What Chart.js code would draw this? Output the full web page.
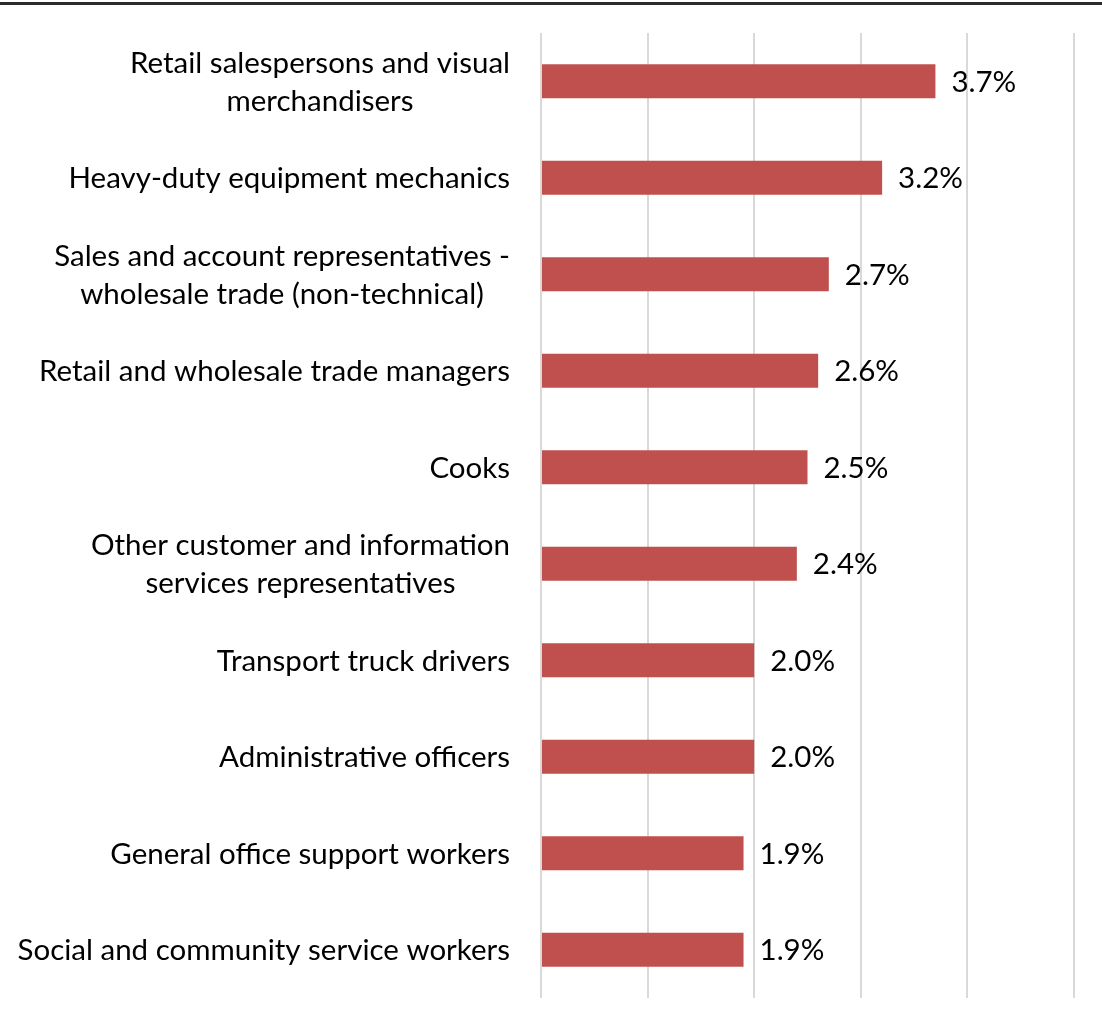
<!DOCTYPE html>
<html>
<head>
<meta charset="utf-8">
<script src="https://cdn.jsdelivr.net/npm/chart.js@4.4.1/dist/chart.umd.min.js"></script>
<style>
    body { margin: 0; background: #fff; }
    /* Línea superior del marco */
    #contenedor { margin-top: 2px; border-top: 3px solid #2b2b2b; width: 1102px; }
    canvas { display: block; }
</style>
</head>
<body>
<div id="contenedor">
    <canvas id="chart1" width="1102" height="1019"></canvas>
</div>
<script>
// Ocupaciones (etiquetas del eje vertical).
const OCUPACIONES = [
    ['Retail salespersons and visual', 'merchandisers'],
    'Heavy-duty equipment mechanics',
    ['Sales and account representatives -', 'wholesale trade (non-technical)'],
    'Retail and wholesale trade managers',
    'Cooks',
    ['Other customer and information', 'services representatives'],
    'Transport truck drivers',
    'Administrative officers',
    'General office support workers',
    'Social and community service workers'
];
// Porcentaje de cada ocupación.
const PORCENTAJES = [3.7, 3.2, 2.7, 2.6, 2.5, 2.4, 2.0, 2.0, 1.9, 1.9];
// Rango del eje horizontal (líneas de cuadrícula cada 1%).
const EJE_MIN = 0;
const EJE_MAX = 5;
const EJE_PASO = 1;

const FUENTE = 'Lato, "Open Sans", sans-serif';
const TAMANO = 29.5;
const INTERLINEA = 38;
const SEPARACION_EJE = 31;

// Plugin para escribir las etiquetas del eje y: el bloque queda alineado a la derecha
// y cada línea de una etiqueta de dos líneas va centrada dentro del bloque.
const etiquetasEje = {
    id: 'etiquetasEje',
    afterDraw(chart) {
        const ctx = chart.ctx;
        const escala = chart.scales.y;
        const borde = escala.right - SEPARACION_EJE;
        ctx.save();
        ctx.font = `${TAMANO}px ${FUENTE}`;
        ctx.fillStyle = '#000';
        ctx.textAlign = 'center';
        ctx.textBaseline = 'middle';
        OCUPACIONES.forEach((etiqueta, i) => {
            const lineas = Array.isArray(etiqueta) ? etiqueta : [etiqueta];
            const ancho = Math.max(...lineas.map(l => ctx.measureText(l).width));
            const centroX = borde - ancho / 2;
            const centroY = escala.getPixelForTick(i);
            lineas.forEach((linea, j) => {
                const y = centroY + (j - (lineas.length - 1) / 2) * INTERLINEA;
                ctx.fillText(linea, centroX, y + 1);
            });
        });
        ctx.restore();
    }
};

// Plugin para escribir el valor al final de cada barra.
const etiquetasValor = {
    id: 'etiquetasValor',
    afterDatasetsDraw(chart) {
        const ctx = chart.ctx;
        const meta = chart.getDatasetMeta(0);
        ctx.save();
        ctx.font = `${TAMANO}px ${FUENTE}`;
        ctx.fillStyle = '#000';
        ctx.textAlign = 'left';
        ctx.textBaseline = 'middle';
        meta.data.forEach((barra, i) => {
            ctx.fillText(PORCENTAJES[i].toFixed(1) + '%', barra.x + 16, barra.y + 1);
        });
        ctx.restore();
    }
};

new Chart(document.getElementById('chart1').getContext('2d'), {
    type: 'bar',
    data: {
        labels: OCUPACIONES,
        datasets: [{
            data: PORCENTAJES,
            backgroundColor: '#C0504D',
            borderWidth: 0,
            categoryPercentage: 1,
            barPercentage: 0.35
        }]
    },
    options: {
        indexAxis: 'y',
        responsive: false,
        animation: false,
        layout: { padding: { top: 28, right: 28, bottom: 26, left: 0 } },
        plugins: {
            legend: { display: false },
            tooltip: { enabled: false }
        },
        scales: {
            x: {
                min: EJE_MIN,
                max: EJE_MAX,
                ticks: { display: false, stepSize: EJE_PASO },
                grid: { color: '#D9D9D9', lineWidth: 2, drawTicks: false },
                border: { display: false }
            },
            y: {
                // Ancho fijo del eje y; las etiquetas se dibujan con el plugin.
                afterFit: (escala) => {
                    escala.width = 541;
                    escala.paddingTop = 0;
                    escala.paddingBottom = 0;
                },
                ticks: { display: false },
                grid: { display: false, drawTicks: false },
                border: { display: false }
            }
        }
    },
    plugins: [etiquetasValor, etiquetasEje]
});
</script>
</body>
</html>
